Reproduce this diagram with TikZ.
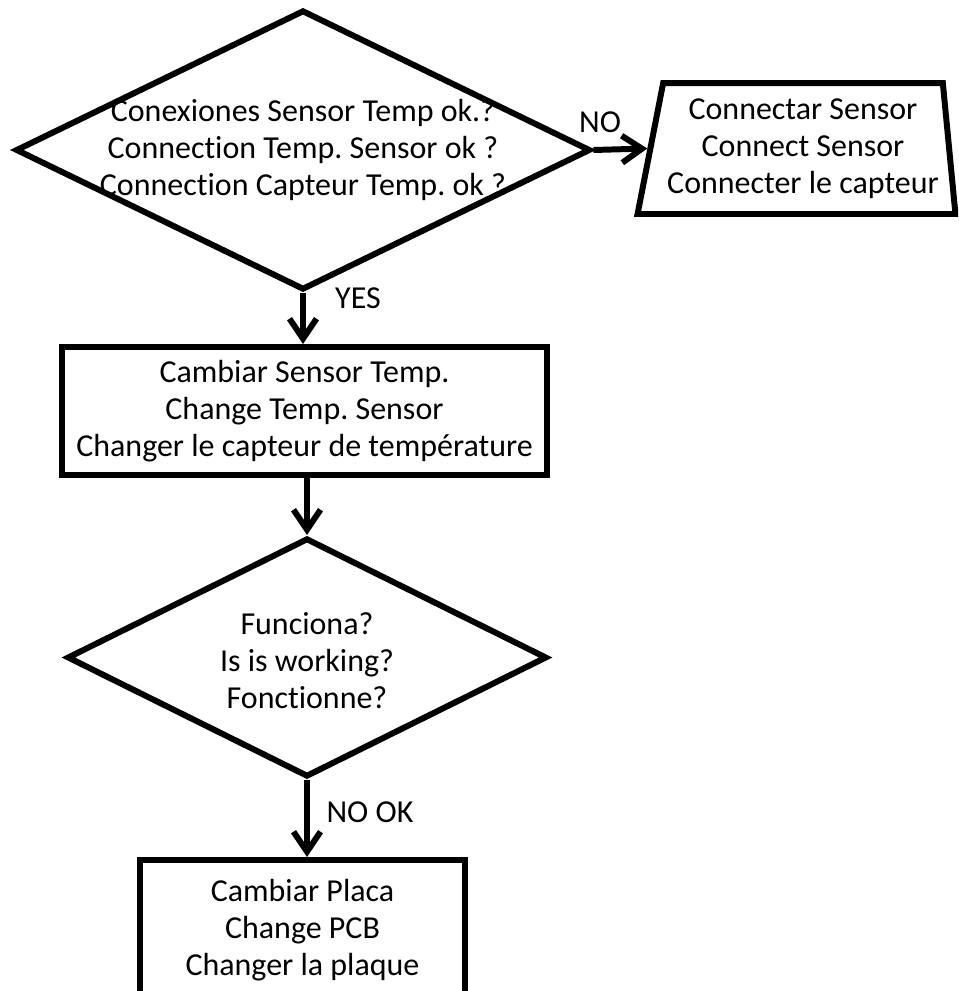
\documentclass[tikz,border=0pt]{standalone}
\usepackage{fontspec}
\setmainfont{Carlito}[Ligatures=NoCommon]
\usetikzlibrary{shapes.geometric,arrows.meta}
\frenchspacing

\begin{document}
\begin{tikzpicture}[x=0.02cm, y=-0.02cm, line width=3.4pt,
    txt/.style={align=center, font=\fontsize{18.2}{21}\selectfont},
    decision/.style={draw, diamond, inner sep=0pt},
    action/.style={draw, rectangle, inner sep=0pt, txt},
    input/.style={draw, trapezium, trapezium left angle=76, trapezium right angle=83,
        trapezium stretches=true, inner sep=0pt, txt},
    flow/.style={-{Straight Barb[length=4mm, width=5.4mm]}, line join=round},
    lbl/.style={font=\fontsize{18.2}{21}\selectfont}]
    \useasboundingbox (0,0) rectangle (958,991);
    \clip (0,0) rectangle (958,991);
    \node[decision, minimum width=11.5cm, minimum height=5.6cm] (chk) at (303,150) {};
    \node[txt] (chktext) at (303,150) {Conexiones Sensor Temp ok.?\\Connection Temp. Sensor ok ?\\Connection Capteur Temp. ok ?};
    \node[input, minimum width=6.36cm, minimum height=2.62cm] (conn) at (803,148.5) {Connectar Sensor\\Connect Sensor\\Connecter le capteur};
    \node[action, minimum width=9.7cm, minimum height=2.56cm] (chsens) at (304.5,411) {Cambiar Sensor Temp.\\Change Temp. Sensor\\Changer le capteur de température};
    \node[decision, minimum width=9.6cm, minimum height=4.78cm] (works) at (307,657.5) {};
    \node[txt] (workstext) at (307,661) {Funciona?\\Is is working?\\Fonctionne?};
    \node[action, minimum width=6.5cm, minimum height=2.8cm] (chpcb) at (302.5,930) {Cambiar Placa\\Change PCB\\Changer la plaque};
    % fleches
    \draw[flow] (chk.east) -- (conn.west);
    \draw[flow] (chk.south) -- (chk.south |- chsens.north);
    \draw[flow] (works.north |- chsens.south) -- (works.north);
    \draw[flow] (works.south) -- (works.south |- chpcb.north);
    \node[lbl] (no) at (600,122) {NO};
    \node[lbl] (yes) at (358,298) {YES};
    \node[lbl] (nook) at (370,812) {NO OK};
\end{tikzpicture}
\end{document}
